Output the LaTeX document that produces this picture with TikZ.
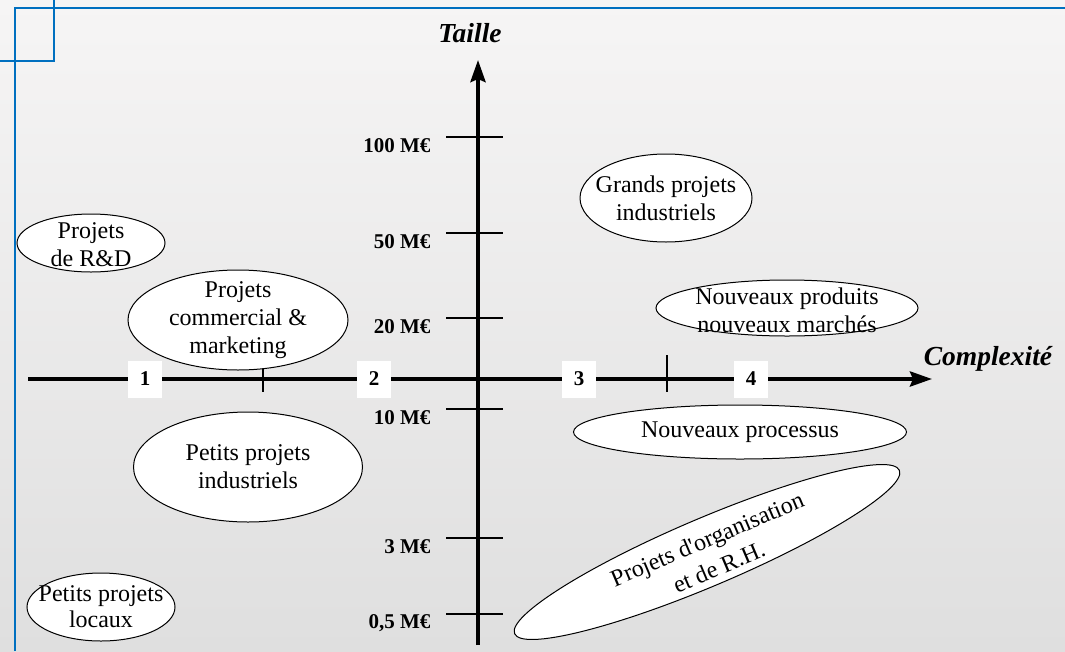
\documentclass[tikz,border=0pt]{standalone}
\usepackage{fontspec}
\setmainfont{Liberation Serif}[Ligatures=TeXOff]
\usetikzlibrary{arrows.meta,shapes.geometric}
\definecolor{FrameBlue}{HTML}{0070C0}
\definecolor{BgTop}{HTML}{F6F5F5}
\definecolor{BgBottom}{HTML}{DFDFDF}
\tikzset{
  proj/.style={draw,ellipse,fill=white,inner sep=0pt,line width=1pt},
  etiq/.style={inner sep=0pt,align=center,font=\fontsize{24}{28}\selectfont},
  graduation/.style={anchor=east,font=\bfseries\fontsize{21}{24}\selectfont},
  zone/.style={fill=white,minimum width=34pt,minimum height=37pt,inner sep=0pt,
    font=\bfseries\fontsize{21}{24}\selectfont},
  axe/.style={line width=4pt,-{Stealth[length=22pt,width=15pt,inset=3pt]}},
  titre/.style={font=\bfseries\itshape\fontsize{27.5}{30}\selectfont}
}

\begin{document}
\begin{tikzpicture}[x=1pt,y=-1pt,>=Stealth]
\useasboundingbox (0,0) rectangle (1065,651);
\shade[top color=BgTop,bottom color=BgBottom] (0,0) rectangle (1065,651);
\draw[FrameBlue,line width=2pt] (15,651) -- (15,8) -- (1065,8);
\draw[FrameBlue,line width=2pt] (0,61) -- (54,61) -- (54,0);

% axes
\coordinate (xdeb) at (28,379);
\coordinate (xfin) at (932,379);
\coordinate (ybas) at (478,645);
\coordinate (yhaut) at (478,60);
\draw[axe] (xdeb) -- (xfin);
\draw[axe] (ybas) -- (yhaut);
\node[titre] (taille) at (470,33) {Taille};
\node[titre] (complexite) at (988,359) {Complexité};

% graduations de taille
\foreach \y/\lab [count=\i] in {137/100,233/50,318/20,409/10,538/3,614/{0,5}}{
  \draw[line width=1.3pt] (446,\y) -- (503,\y);
  \node[graduation] (grad\i) at (434,\y+9) {\lab\ M€};
}

% graduations de complexite
\draw[line width=1.3pt] (263,365) -- (263,392);
\draw[line width=1.3pt] (667,355) -- (667,392);

% projets
\node[proj,minimum width=148pt,minimum height=58pt] (rd) at (91,243) {};
\node[etiq] (rd-t) at (91,245) {Projets\\de R\&D};
\node[proj,minimum width=220pt,minimum height=100pt] (comm) at (238,320) {};
\node[etiq] (comm-t) at (comm) {Projets\\commercial \&\\marketing};
\node[proj,minimum width=172pt,minimum height=88pt] (grands) at (666,198) {};
\node[etiq] (grands-t) at (grands) {Grands projets\\industriels};
\node[proj,minimum width=262pt,minimum height=56pt] (nouvprod) at (787,308) {};
\node[etiq] (nouvprod-t) at (787,310) {Nouveaux produits\\nouveaux marchés};
\node[proj,minimum width=333pt,minimum height=54pt] (nouvproc) at (740,432) {};
\node[etiq] (nouvproc-t) at (nouvproc) {Nouveaux processus};
\node[proj,minimum width=229pt,minimum height=110pt] (petitsind) at (248,467) {};
\node[etiq] (petitsind-t) at (petitsind) {Petits projets\\industriels};
\node[proj,minimum width=148pt,minimum height=68pt] (locaux) at (101,607) {};
\node[etiq] (locaux-t) at (locaux) {Petits projets\\[-2pt]locaux};
\node[proj,minimum width=418pt,minimum height=68pt,rotate=23] (orga) at (707,552) {};
\node[etiq,rotate=23] (orga-t) at (713,553) {Projets d'organisation\\[2pt]et de R.H.};

% zones
\foreach \x/\num in {145/1,374/2,579/3,751/4}
  \node[zone] (zone\num) at (\x,379) {\num};
\end{tikzpicture}
\end{document}
